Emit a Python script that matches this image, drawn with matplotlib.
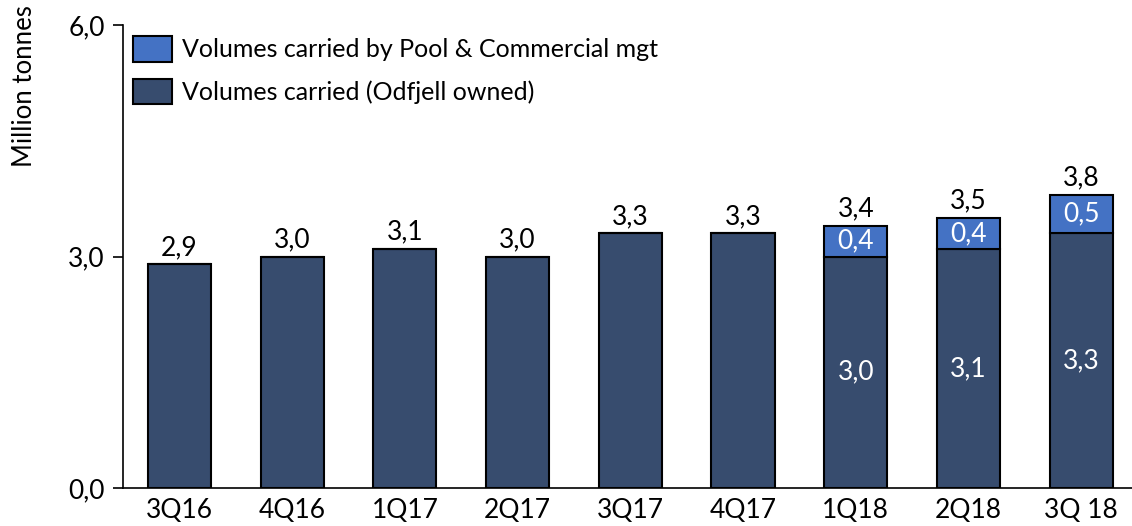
import numpy as np
import matplotlib.pyplot as plt
from matplotlib.patches import Patch

plt.rcParams['font.family'] = ['Lato', 'DejaVu Sans']

# data
quarters = ['3Q16', '4Q16', '1Q17', '2Q17', '3Q17', '4Q17', '1Q18', '2Q18', '3Q 18']
owned = [2.9, 3.0, 3.1, 3.0, 3.3, 3.3, 3.0, 3.1, 3.3]
pool = [0, 0, 0, 0, 0, 0, 0.4, 0.4, 0.5]
totals = [2.9, 3.0, 3.1, 3.0, 3.3, 3.3, 3.4, 3.5, 3.8]

DARK = '#374C6E'
BLUE = '#4472C4'
FS = 19


def fmt(v):
    return f"{v:.1f}".replace('.', ',')


fig = plt.figure(figsize=(11.32, 5.26), dpi=100)
ax = fig.add_axes([123 / 1132, 1 - 488 / 526, 1 - 123 / 1132, (488 - 25) / 526])

x = np.arange(len(quarters))
w = 0.56
ax.bar(x, owned, w, color=DARK, edgecolor='black', linewidth=1.5, zorder=3)
ax.bar(x, pool, w, bottom=owned, color=BLUE, edgecolor='black', linewidth=1.5, zorder=3)

# -------- labels --------
for i in range(len(quarters)):
    ax.annotate(fmt(totals[i]), (x[i], totals[i]), xytext=(0, 3), textcoords='offset points',
                ha='center', va='bottom', fontsize=FS, color='black')
    if pool[i] > 0:
        ax.text(x[i], owned[i] / 2, fmt(owned[i]), ha='center', va='center',
                fontsize=FS, color='white', zorder=4)
        ax.text(x[i], owned[i] + pool[i] / 2, fmt(pool[i]), ha='center', va='center',
                fontsize=FS, color='white', zorder=4)

ax.set_xlim(-0.5, 8.45)
ax.set_ylim(0, 6)
ax.set_yticks([0, 3, 6])
ax.set_yticklabels([fmt(v) for v in [0, 3, 6]], fontsize=FS)
ax.set_xticks(x)
ax.set_xticklabels(quarters, fontsize=FS)
ax.tick_params(axis='x', length=0, pad=7)
ax.tick_params(axis='y', length=7, width=1.2, pad=6, direction='out')
for s in ['top', 'right']:
    ax.spines[s].set_visible(False)
ax.spines['left'].set_linewidth(1.2)
ax.spines['bottom'].set_linewidth(1.2)

fig.text(25 / 1132, 1 - 86 / 526, 'Million tonnes', rotation=90, ha='center', va='center',
         fontsize=18.5)

handles = [Patch(facecolor=BLUE, edgecolor='black', linewidth=1.5),
           Patch(facecolor=DARK, edgecolor='black', linewidth=1.5)]
ax.legend(handles, ['Volumes carried by Pool & Commercial mgt', 'Volumes carried (Odfjell owned)'],
          loc='upper left', bbox_to_anchor=(-0.012, 1.024), frameon=False, fontsize=18,
          handlelength=1.56, handleheight=1.18, handletextpad=0.38, labelspacing=0.7)

fig.savefig('out.png', dpi=100)
